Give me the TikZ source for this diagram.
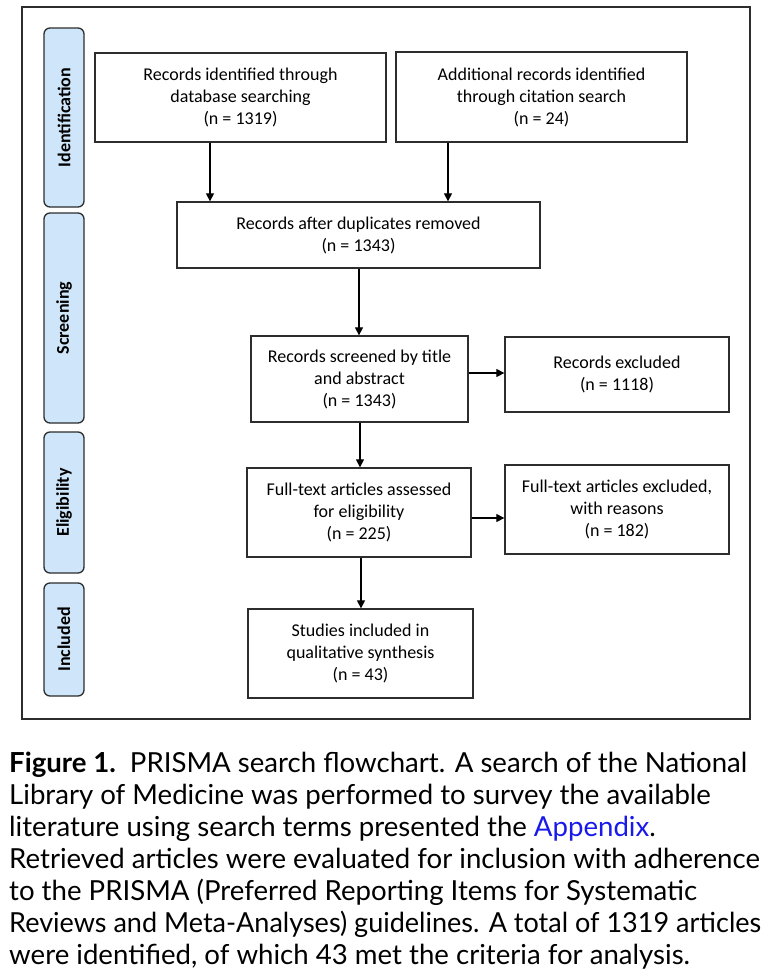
\documentclass[tikz,border=0pt]{standalone}
\usepackage{fontspec}
\usepackage{graphicx}
\setmainfont{Carlito}
\newfontfamily\capfont{Lato}
\usetikzlibrary{arrows.meta}
\definecolor{sidefill}{RGB}{207,230,250}
\definecolor{linkblue}{RGB}{25,25,235}
\definecolor{edge}{RGB}{45,45,45}
\tikzset{
  box/.style={draw=edge, line width=1.3pt, fill=white, align=center, inner sep=2pt,
    font=\fontsize{18}{22}\selectfont},
  side/.style={draw=edge, line width=1.3pt, fill=sidefill, rounded corners=6pt, rotate=90,
    minimum height=40pt, inner sep=0pt, font=\bfseries\fontsize{18}{20}\selectfont},
  arr/.style={draw=black, line width=1.2pt, -{Triangle[length=8pt,width=8pt]}},
  capline/.style={anchor=base west, inner sep=0pt, font=\capfont\fontsize{27.6}{32}\selectfont}
}
\begin{document}
\begin{tikzpicture}[x=1pt,y=-1pt]
\useasboundingbox (0,0) rectangle (769,978);
\fill[white] (0,0) rectangle (769,978);
\draw[edge, line width=1.3pt] (22,7) rectangle (750,719);

% side labels
\node[side, minimum width=179pt] (sid) at (64,117.5) {Identification};
\node[side, minimum width=210pt] (sscr) at (64,318) {Screening};
\node[side, minimum width=141pt] (sel) at (64,502.5) {Eligibility};
\node[side, minimum width=113pt] (sinc) at (64,639.5) {Included};

% boxes
\node[box, minimum width=291pt, minimum height=89pt] (b1) at (240.5,97.5)
  {Records identified through\\database searching\\(n = 1319)};
\node[box, minimum width=291pt, minimum height=90pt] (b2) at (541.5,97)
  {Additional records identified\\through citation search\\(n = 24)};
\node[box, minimum width=363pt, minimum height=66pt] (b3) at (358.5,235)
  {Records after duplicates removed\\(n = 1343)};
\node[box, minimum width=217pt, minimum height=86pt] (b4) at (359.5,379)
  {Records screened by title\\and abstract\\(n = 1343)};
\node[box, minimum width=224pt, minimum height=75pt] (b5) at (617,374.5)
  {Records excluded\\(n = 1118)};
\node[box, minimum width=224pt, minimum height=89pt] (b6) at (359,512.5)
  {Full-text articles assessed\\for eligibility\\(n = 225)};
\node[box, minimum width=224pt, minimum height=89pt] (b7) at (617,509.5)
  {Full-text articles excluded,\\with reasons\\(n = 182)};
\node[box, minimum width=225pt, minimum height=89pt] (b8) at (360.5,653.5)
  {Studies included in\\qualitative synthesis\\(n = 43)};

% connector guides
\coordinate (xa) at (210,0);
\coordinate (xb) at (448,0);
\coordinate (xc) at (359,0);
\coordinate (xd) at (360,0);
\coordinate (xe) at (361,0);
\coordinate (ya) at (0,373);
\coordinate (yb) at (0,518);

\draw[arr] (b1.south -| xa) -- (b3.north -| xa);
\draw[arr] (b2.south -| xb) -- (b3.north -| xb);
\draw[arr] (b3.south -| xc) -- (b4.north -| xc);
\draw[arr] (b4.south -| xd) -- (b6.north -| xd);
\draw[arr] (b6.south -| xe) -- (b8.north -| xe);
\draw[arr] (b4.east |- ya) -- (b5.west |- ya);
\draw[arr] (b6.east |- yb) -- (b7.west |- yb);

% caption
\node[capline] (c1) at (9,772) {\textbf{Figure 1.}\ \ PRISMA search flowchart. A search of the National};
\node[capline] (c2) at (9,804) {Library of Medicine was performed to survey the available};
\node[capline] (c3) at (9,836) {literature using search terms presented the \textcolor{linkblue}{Appendix}.};
\node[capline] (c4) at (9,868) {Retrieved articles were evaluated for inclusion with adherence};
\node[capline] (c5) at (9,900) {to the PRISMA (Preferred Reporting Items for Systematic};
\node[capline] (c6) at (9,932) {\resizebox{752pt}{\height}{Reviews and Meta-Analyses) guidelines. A total of 1319 articles}};
\node[capline] (c7) at (9,964) {were identified, of which 43 met the criteria for analysis.};
\end{tikzpicture}
\end{document}
